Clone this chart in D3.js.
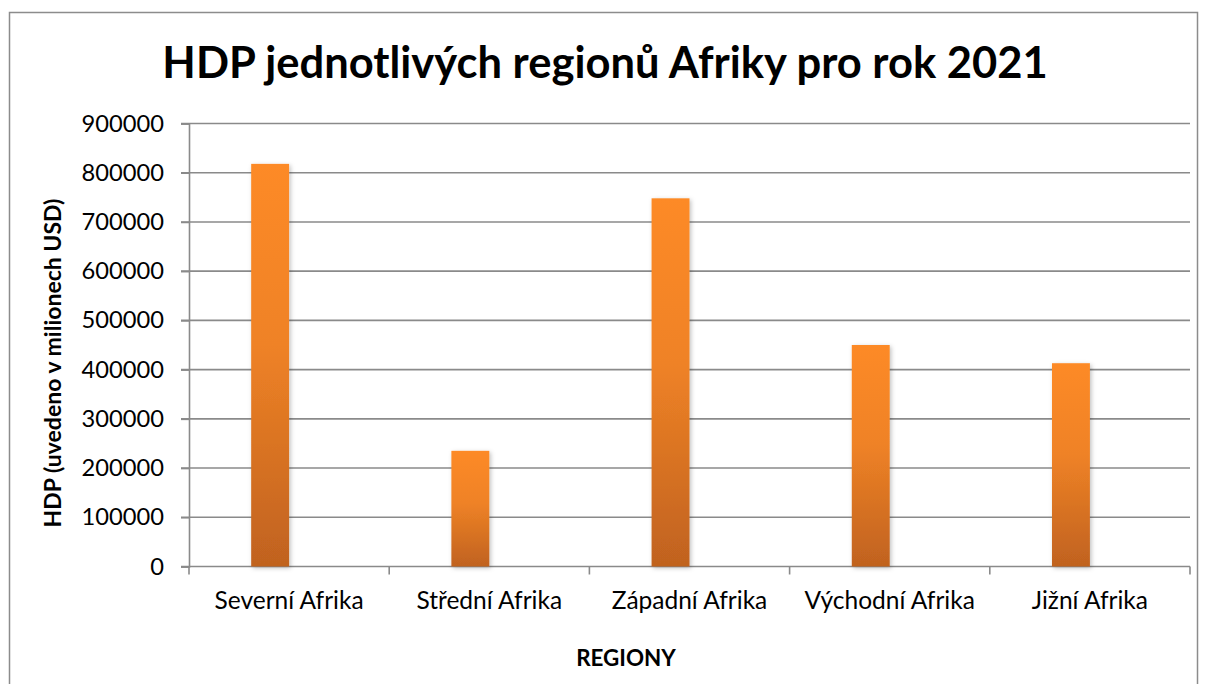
<!DOCTYPE html>
<html>
<head>
<meta charset="utf-8">
<script src="https://cdn.jsdelivr.net/npm/d3@7"></script>
<style>
  body { margin: 0; background: #fff; }
  svg { display: block; font-family: Lato, "Open Sans", sans-serif; }
</style>
</head>
<body>
<script>
// chart data
const regions = ["Severní Afrika", "Střední Afrika", "Západní Afrika", "Východní Afrika", "Jižní Afrika"]
const gdp = [818000, 235000, 748000, 450000, 413000]
const yTicks = [0, 100000, 200000, 300000, 400000, 500000, 600000, 700000, 800000, 900000]
const seriesSlots = ["HDP", "prázdná"]

const w = 1208
const h = 684
const plotL = 189, plotR = 1190, plotT = 123.5, plotB = 566.5

const svg = d3.select("body")
  .append("svg")
  .attr("width", w)
  .attr("height", h)

const defs = svg.append("defs")
const grad = defs.append("linearGradient")
  .attr("id", "barGrad")
  .attr("x1", 0).attr("y1", 0)
  .attr("x2", 0).attr("y2", 1)
grad.append("stop").attr("offset", "0%").attr("stop-color", "#fd8a25")
grad.append("stop").attr("offset", "45%").attr("stop-color", "#ef8226")
grad.append("stop").attr("offset", "100%").attr("stop-color", "#c0621f")

const shadow = defs.append("filter")
  .attr("id", "shadow")
  .attr("x", "-30%").attr("y", "-10%")
  .attr("width", "160%").attr("height", "120%")
shadow.append("feDropShadow")
  .attr("dx", 1.5).attr("dy", 1.5)
  .attr("stdDeviation", 2)
  .attr("flood-color", "#000")
  .attr("flood-opacity", 0.25)

// outer border
svg.append("rect")
  .attr("x", 9.5).attr("y", 12.5)
  .attr("width", 1188).attr("height", 700)
  .attr("fill", "none")
  .attr("stroke", "#8c8c8c")
  .attr("stroke-width", 1.5)

const yScale = d3.scaleLinear()
  .domain([0, 900000])
  .range([plotB, plotT])

const xScale = d3.scaleBand()
  .domain(regions)
  .range([plotL, plotR])

const xSub = d3.scaleBand()
  .domain(seriesSlots)
  .range([0, xScale.bandwidth()])
  .paddingOuter(1.64)

// gridlines
svg.append("g")
  .selectAll("line")
  .data(yTicks.filter(d => d > 0))
  .enter()
  .append("line")
  .attr("x1", plotL - 8)
  .attr("x2", plotR)
  .attr("y1", d => yScale(d))
  .attr("y2", d => yScale(d))
  .attr("stroke", "#8a8a8a")
  .attr("stroke-width", 1.6)

// y axis
const yAxis = d3.axisLeft(yScale)
  .tickValues(yTicks)
  .tickSize(8)
  .tickPadding(17)
  .tickFormat(d3.format("d"))

const yG = svg.append("g")
  .attr("transform", "translate(" + plotL + ",0)")
  .call(yAxis)
yG.select(".domain").attr("stroke", "#8a8a8a").attr("stroke-width", 1.6)
yG.selectAll(".tick line").attr("stroke", "#8a8a8a").attr("stroke-width", 1.6)
yG.selectAll(".tick text")
  .attr("font-size", 23.7)
  .attr("fill", "#000")
  .attr("font-family", "Lato, sans-serif")

// x axis
const xG = svg.append("g")
  .attr("transform", "translate(0," + plotB + ")")
xG.append("line")
  .attr("x1", plotL - 8).attr("x2", plotR)
  .attr("stroke", "#8a8a8a").attr("stroke-width", 1.6)
xG.selectAll("line.tk")
  .data(regions.concat(["end"]))
  .enter()
  .append("line")
  .attr("class", "tk")
  .attr("x1", (d, i) => i < regions.length ? xScale(d) : plotR)
  .attr("x2", (d, i) => i < regions.length ? xScale(d) : plotR)
  .attr("y1", 0).attr("y2", 8)
  .attr("stroke", "#8a8a8a").attr("stroke-width", 1.6)
xG.selectAll("text")
  .data(regions)
  .enter()
  .append("text")
  .attr("x", d => xScale(d) + xScale.bandwidth() / 2)
  .attr("y", 42)
  .attr("text-anchor", "middle")
  .attr("font-size", 24.5)
  .text(d => d)

// bars
svg.append("g")
  .selectAll("rect")
  .data(regions)
  .enter()
  .append("rect")
  .attr("x", d => xScale(d) + xSub("HDP"))
  .attr("width", xSub.bandwidth())
  .attr("y", (d, i) => yScale(gdp[i]))
  .attr("height", (d, i) => plotB - yScale(gdp[i]))
  .attr("fill", "url(#barGrad)")
  .attr("filter", "url(#shadow)")

// titles
svg.append("text")
  .attr("x", 605)
  .attr("y", 78)
  .attr("text-anchor", "middle")
  .attr("font-size", 43.5)
  .attr("font-weight", "bold")
  .text("HDP jednotlivých regionů Afriky pro rok 2021")

svg.append("text")
  .attr("transform", "translate(61,363) rotate(-90)")
  .attr("text-anchor", "middle")
  .attr("font-size", 23)
  .attr("font-weight", "bold")
  .text("HDP (uvedeno v milionech USD)")

svg.append("text")
  .attr("x", 626)
  .attr("y", 666)
  .attr("text-anchor", "middle")
  .attr("font-size", 22.4)
  .attr("font-weight", "bold")
  .text("REGIONY")
</script>
</body>
</html>
